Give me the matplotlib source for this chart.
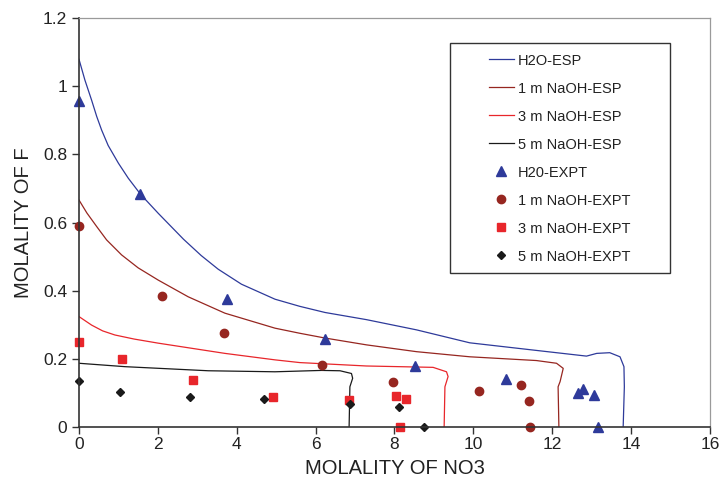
import numpy as np
import matplotlib.pyplot as plt
from matplotlib.patches import Rectangle

plt.rcParams["font.family"] = ["Liberation Sans", "DejaVu Sans"]

# ESP model curves (NO3, F)
h2o_esp_x = [0, 0.15, 0.32, 0.45, 0.575, 0.74, 1.0, 1.25, 1.56, 2.01, 2.65, 3.1, 3.53, 4.12,
             4.97, 5.6, 6.24, 7.29, 8.56, 9.91, 11.5, 12.87, 13.13, 13.46, 13.72, 13.82,
             13.83, 13.80]
h2o_esp_y = [1.079, 1.018, 0.959, 0.911, 0.871, 0.826, 0.774, 0.730, 0.683, 0.627, 0.551,
             0.503, 0.463, 0.419, 0.375, 0.354, 0.336, 0.315, 0.285, 0.247, 0.226, 0.208,
             0.216, 0.218, 0.206, 0.177, 0.118, 0]

naoh1_esp_x = [0, 0.2, 0.45, 0.7, 1.08, 1.5, 2.01, 2.77, 3.70, 4.97, 5.6, 6.24, 7.29, 8.56,
               9.91, 11.60, 12.11, 12.28, 12.20, 12.15, 12.17]
naoh1_esp_y = [0.666, 0.628, 0.588, 0.549, 0.505, 0.467, 0.431, 0.382, 0.334, 0.290, 0.275,
               0.261, 0.241, 0.221, 0.206, 0.195, 0.187, 0.172, 0.133, 0.118, 0]

naoh3_esp_x = [0, 0.32, 0.6, 0.91, 1.4, 2.01, 3.70, 4.97, 5.6, 7.29, 8.98, 9.32, 9.36, 9.28, 9.26]
naoh3_esp_y = [0.324, 0.299, 0.282, 0.270, 0.258, 0.246, 0.216, 0.197, 0.189, 0.179, 0.175,
               0.162, 0.148, 0.118, 0]

naoh5_esp_x = [0, 1.17, 3.28, 4.97, 6.15, 6.62, 6.91, 6.94, 6.87, 6.85]
naoh5_esp_y = [0.187, 0.177, 0.165, 0.162, 0.166, 0.165, 0.157, 0.143, 0.118, 0]

# experimental points
h2o_x = [0, 1.55, 3.75, 6.24, 8.52, 10.83, 12.65, 12.77, 13.06, 13.16]
h2o_y = [0.957, 0.684, 0.376, 0.258, 0.179, 0.141, 0.101, 0.111, 0.094, 0]

naoh1_x = [0, 2.10, 3.68, 6.16, 7.96, 10.14, 11.21, 11.41, 11.43]
naoh1_y = [0.59, 0.384, 0.276, 0.182, 0.132, 0.106, 0.123, 0.076, 0]

naoh3_x = [0, 1.09, 2.89, 4.92, 6.85, 8.04, 8.29, 8.14]
naoh3_y = [0.249, 0.200, 0.138, 0.089, 0.079, 0.091, 0.082, 0]

naoh5_x = [0, 1.04, 2.81, 4.69, 6.87, 8.11, 8.75]
naoh5_y = [0.135, 0.102, 0.088, 0.083, 0.067, 0.059, 0]

blue = "#2e3a9a"
darkred = "#962620"
red = "#e8262b"
black = "#1a1a1a"

fig = plt.figure(figsize=(7.2, 4.78), dpi=100)
ax = fig.add_axes([0.1097, 0.1067, 0.8763, 0.8556])

lw = 0.9
ax.plot(h2o_esp_x, h2o_esp_y, color=blue, lw=lw, label="H2O-ESP")
ax.plot(naoh1_esp_x, naoh1_esp_y, color=darkred, lw=lw, label="1 m NaOH-ESP")
ax.plot(naoh3_esp_x, naoh3_esp_y, color=red, lw=lw, label="3 m NaOH-ESP")
ax.plot(naoh5_esp_x, naoh5_esp_y, color=black, lw=lw, label="5 m NaOH-ESP")

ax.plot(h2o_x, h2o_y, "^", color=blue, ms=6.5, ls="none", label="H20-EXPT", clip_on=False)
ax.plot(naoh1_x, naoh1_y, "o", color=darkred, ms=6, ls="none", label="1 m NaOH-EXPT", clip_on=False)
ax.plot(naoh3_x, naoh3_y, "s", color=red, ms=5.5, ls="none", label="3 m NaOH-EXPT", clip_on=False)
ax.plot(naoh5_x, naoh5_y, "D", color=black, ms=4, ls="none", label="5 m NaOH-EXPT", clip_on=False)

ax.set_xlim(0, 16)
ax.set_ylim(0, 1.2)
ax.set_xticks(np.arange(0, 17, 2))
ax.set_yticks([0, 0.2, 0.4, 0.6, 0.8, 1.0, 1.2])
ax.set_yticklabels(["0", "0.2", "0.4", "0.6", "0.8", "1", "1.2"])
ax.tick_params(direction="out", length=5, width=1, color="#333333",
               labelsize=12.5, labelcolor="#222222")
ax.tick_params(axis="x", pad=2)

for side in ["top", "right"]:
    ax.spines[side].set_color("#9a9a9a")
    ax.spines[side].set_linewidth(0.9)
for side in ["left", "bottom"]:
    ax.spines[side].set_color("#333333")
    ax.spines[side].set_linewidth(1.2)

ax.set_xlabel("MOLALITY OF NO3", fontsize=14.5, color="#222222", labelpad=5)
ax.set_ylabel("MOLALITY OF F", fontsize=14.5, color="#222222", labelpad=7)

# legend box
ax.add_patch(Rectangle((0.588, 0.377), 0.349, 0.562, transform=ax.transAxes,
                       fill=False, ec="#333333", lw=1.0, zorder=5))
leg = ax.legend(loc="upper left", bbox_to_anchor=(0.633, 0.938), frameon=False,
                fontsize=10.5, handlelength=1.75, handletextpad=0.25,
                labelspacing=0.96, borderpad=0.2, numpoints=1)
for t in leg.get_texts():
    t.set_color("#222222")

fig.savefig("out.png", dpi=100)
